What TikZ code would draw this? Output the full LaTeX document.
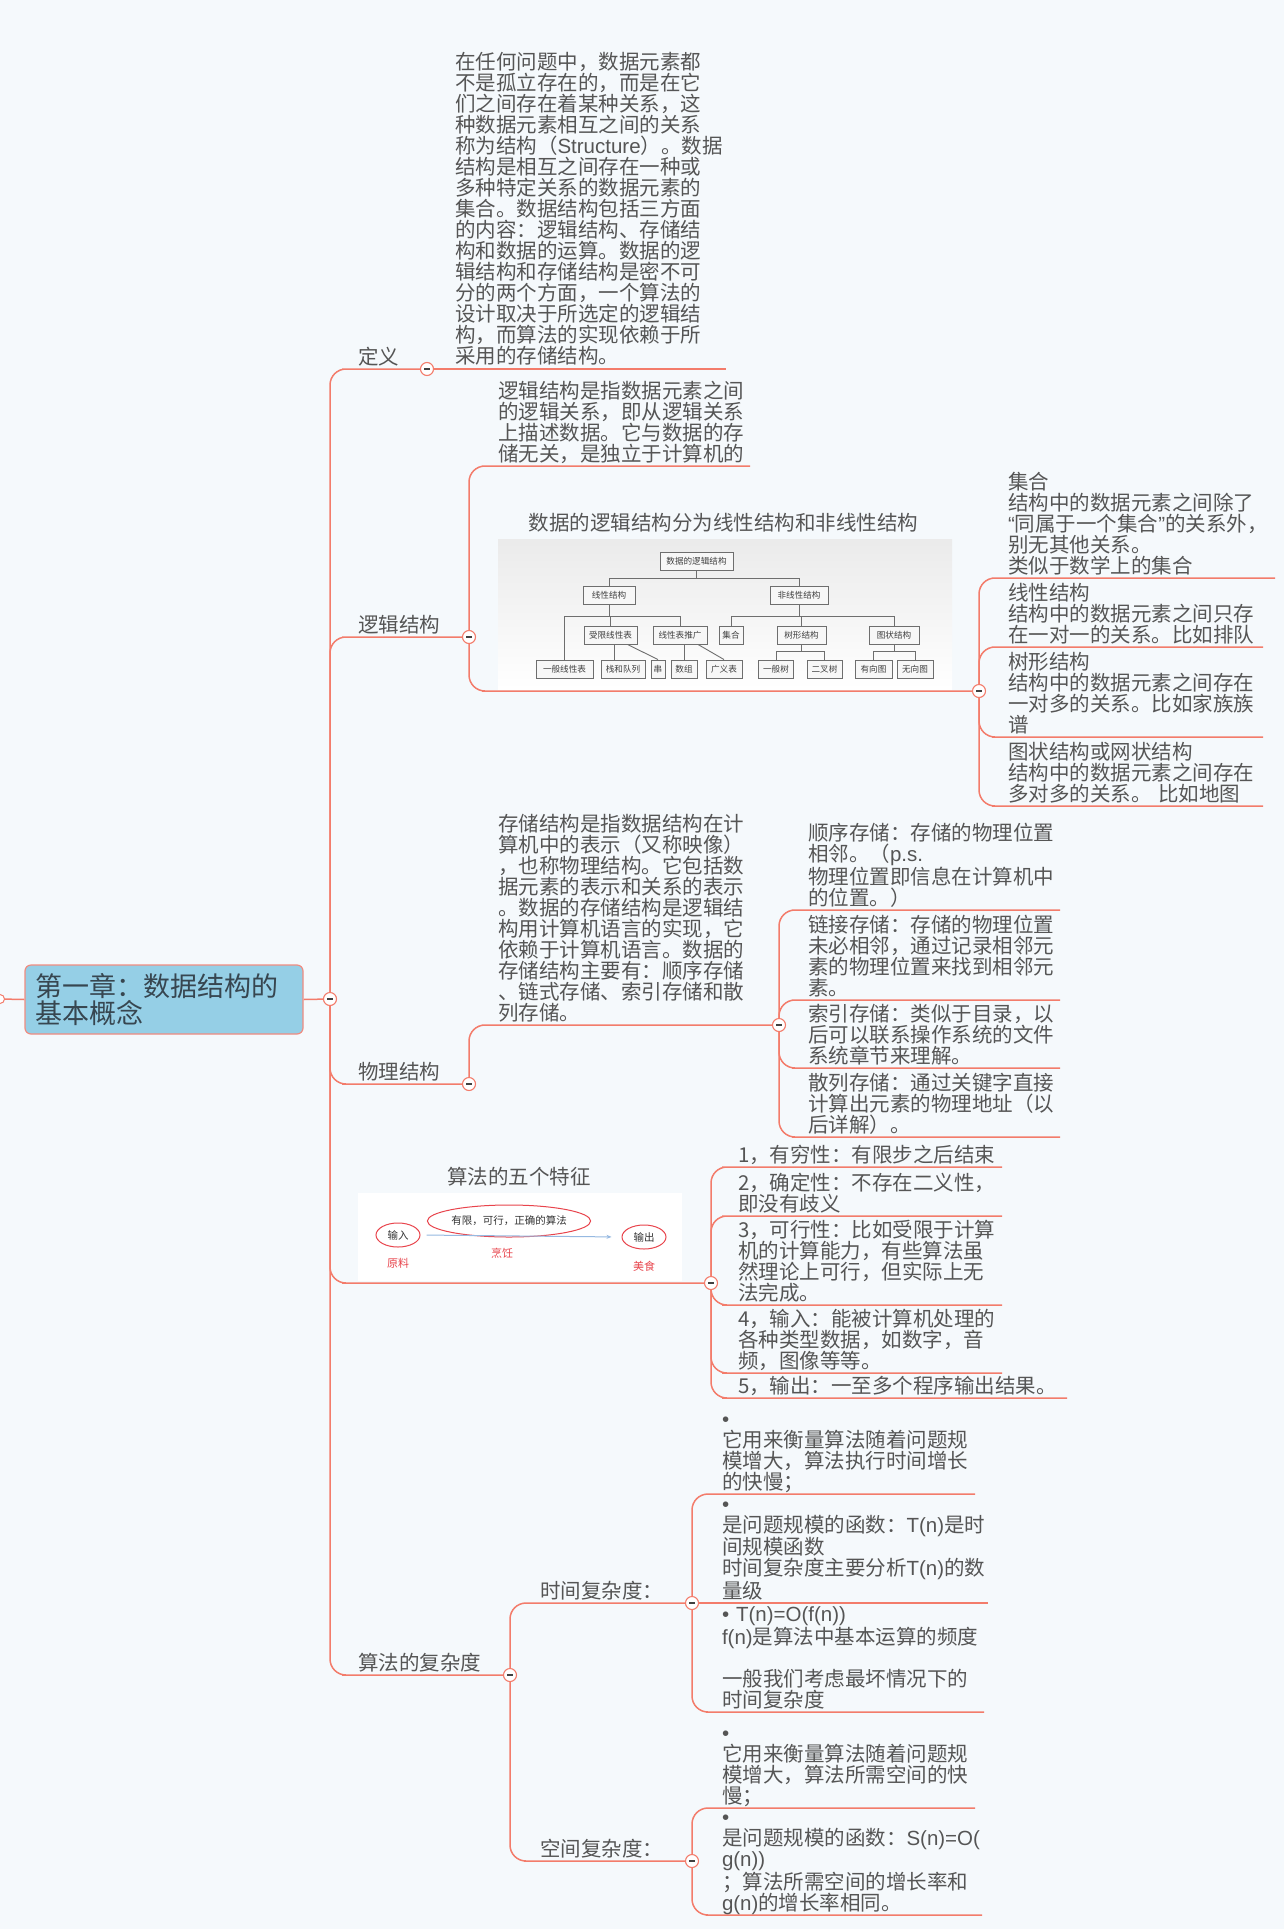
\documentclass[tikz,border=0pt]{standalone}
\usepackage{fontspec}
\setmainfont{Noto Sans CJK SC}
\newfontfamily\westfont{Liberation Sans}
\usetikzlibrary{shapes.geometric,arrows.meta}

\definecolor{pagebg}{RGB}{245,249,252}
\definecolor{linec}{RGB}{243,124,107}
\definecolor{txt}{RGB}{85,85,85}
\definecolor{rootfill}{RGB}{149,207,230}
\definecolor{rootline}{RGB}{240,140,128}
\definecolor{roottxt}{RGB}{55,70,80}
\definecolor{treeline}{RGB}{110,110,110}
\definecolor{featred}{RGB}{232,68,76}
\definecolor{arrowblue}{RGB}{150,185,225}

\pgfdeclarelayer{back}
\pgfdeclarelayer{conn}
\pgfsetlayers{back,conn,main}

% fixed depth below the last line of every topic text
\newcommand\topicdepth{\rule[-5pt]{0pt}{1pt}}
% narrow western quotes and bullet
\newcommand\wquoteopen{{\westfont “}}
\newcommand\wquoteclose{{\westfont ”}}
\newcommand\wbullet{{\westfont •}}

\tikzset{
  topic/.style={anchor=south west, inner sep=0pt, outer sep=0pt, align=left,
    text=txt, font=\fontsize{20.5}{21}\selectfont, execute at end node=\topicdepth},
  headline/.style={inner sep=0pt, text=txt, font=\fontsize{20.5}{21}\selectfont},
  conn/.style={draw=linec, line width=1.5pt, rounded corners=16pt},
  collapse/.style={circle, draw=linec, fill=white, line width=1.1pt, minimum size=13pt,
    inner sep=0pt, outer sep=0pt,
    path picture={\draw[line width=1.6pt, draw=black!75]
      ([xshift=-3pt]path picture bounding box.center) --
      ([xshift=3pt]path picture bounding box.center);}},
  endcircle/.style={circle, draw=linec, fill=white, line width=1pt, minimum size=9pt, inner sep=0pt},
  rootbox/.style={draw=rootline, fill=rootfill, line width=1.2pt, rounded corners=6pt,
    minimum width=278pt, minimum height=69pt, text width=258pt, align=left,
    inner xsep=10pt, font=\fontsize{27}{27}\selectfont, text=roottxt},
  treebox/.style={draw=treeline, fill=black!3, line width=0.9pt,
    font=\fontsize{8.6}{9}\selectfont, text=black!75, minimum height=18pt,
    inner xsep=1pt, inner ysep=0pt},
  treeedge/.style={draw=treeline, line width=0.9pt},
  featell/.style={ellipse, draw=featred, line width=1pt, inner sep=0pt,
    font=\fontsize{10.5}{11}\selectfont, text=black!80},
  featlab/.style={inner sep=0pt, font=\fontsize{11}{11}\selectfont, text=featred},
}

\begin{document}
\begin{tikzpicture}[x=1pt,y=-1pt]
\useasboundingbox (0,0) rectangle (1284,1929);
\begin{pgfonlayer}{back}
  \fill[pagebg] (0,0) rectangle (1284,1929);
\end{pgfonlayer}

% ---------- central topic ----------
\node[rootbox] (root) at (164,999.5) {第一章：数据结构的\\基本概念};
\node[endcircle] (pin) at (0,999) {};
\node[collapse] (c0) at (330,999) {};

% ---------- 定义 ----------
\node[topic] (l-def) at (358,369) {定义};
\node[collapse] (c-def) at (427,369) {};
\node[topic, text width=271pt] (t-def) at (455,369) {在任何问题中，数据元素都\\不是孤立存在的，而是在它\\们之间存在着某种关系，这\\种数据元素相互之间的关系\\称为结构（{\westfont Structure}）。数据\\结构是相互之间存在一种或\\多种特定关系的数据元素的\\集合。数据结构包括三方面\\的内容：逻辑结构、存储结\\构和数据的运算。数据的逻\\辑结构和存储结构是密不可\\分的两个方面，一个算法的\\设计取决于所选定的逻辑结\\构，而算法的实现依赖于所\\采用的存储结构。};

% ---------- 逻辑结构 ----------
\node[topic] (l-log) at (358,637) {逻辑结构};
\node[collapse] (c-log) at (469,637) {};
\node[topic, text width=252pt] (t-log1) at (498,466) {逻辑结构是指数据元素之间\\的逻辑关系，即从逻辑关系\\上描述数据。它与数据的存\\储无关，是独立于计算机的};
\node[headline] (log-title) at (723.5,523) {数据的逻辑结构分为线性结构和非线性结构};
\node[top color=black!8, bottom color=white, minimum width=454pt, minimum height=150pt,
  inner sep=0pt, anchor=north west] (logimg) at (498,539) {};
\coordinate (logimg-base) at (498,691);
\node[collapse] (c-img1) at (979,691) {};

% tree of logical structures
\node[treebox, minimum width=73pt] (tr0) at (696.5,561.5) {数据的逻辑结构};
\node[treebox, minimum width=52pt] (tr1) at (609,595) {线性结构};
\node[treebox, minimum width=58pt] (tr2) at (799,595) {非线性结构};
\node[treebox, minimum width=53pt] (tr11) at (610.5,635) {受限线性表};
\node[treebox, minimum width=54pt] (tr12) at (680,635) {线性表推广};
\node[treebox, minimum width=24pt] (tr21) at (731,635) {集合};
\node[treebox, minimum width=49pt] (tr22) at (801.5,635) {树形结构};
\node[treebox, minimum width=50pt] (tr23) at (894,635) {图状结构};
\node[treebox, minimum width=57pt] (tr111) at (564.5,669) {一般线性表};
\node[treebox, minimum width=44pt] (tr112) at (623,669) {栈和队列};
\node[treebox, minimum width=14pt] (tr113) at (658,669) {串};
\node[treebox, minimum width=26pt] (tr121) at (684,669) {数组};
\node[treebox, minimum width=36pt] (tr122) at (724,669) {广义表};
\node[treebox, minimum width=35pt] (tr221) at (776,669) {一般树};
\node[treebox, minimum width=35pt] (tr222) at (824.5,669) {二叉树};
\node[treebox, minimum width=37pt] (tr231) at (873.5,669) {有向图};
\node[treebox, minimum width=36pt] (tr232) at (915,669) {无向图};

\draw[treeedge] (tr0.south) -- ++(0,7.2) -| (tr1.north);
\draw[treeedge] (tr0.south) -- ++(0,7.2) -| (tr2.north);
\draw[treeedge] (tr1.south) -- ++(0,11.7) -| (tr111.north);
\draw[treeedge] (tr1.south) -- ++(0,11.7) -| (tr11.north);
\draw[treeedge] (tr1.south) -- ++(0,11.7) -| (tr12.north);
\draw[treeedge] (tr2.south) -- ++(0,11.7) -| (tr21.north);
\draw[treeedge] (tr2.south) -- ++(0,11.7) -| (tr22.north);
\draw[treeedge] (tr2.south) -- ++(0,11.7) -| (tr23.north);
\draw[treeedge] ([xshift=4pt]tr11.south) -- ([xshift=4pt]tr11.south |- tr112.north);
\draw[treeedge] ([xshift=17pt]tr11.south) -- (tr113.north);
\draw[treeedge] (tr12.south -| tr121.north) -- (tr121.north);
\draw[treeedge] ([xshift=18pt]tr12.south) -- (tr122.north);
\draw[treeedge] (tr22.south) -- ++(0,7) -| (tr221.north);
\draw[treeedge] (tr22.south) -- ++(0,7) -| (tr222.north);
\draw[treeedge] (tr23.south) -- ++(0,7) -| (tr231.north);
\draw[treeedge] (tr23.south) -- ++(0,7) -| (tr232.north);

% kinds of logical structure
\node[topic, text width=267pt] (t-set) at (1008,578) {集合\\结构中的数据元素之间除了\\\wquoteopen 同属于一个集合\wquoteclose 的关系外，\\别无其他关系。\\类似于数学上的集合};
\node[topic, text width=255pt] (t-lin) at (1008,647) {线性结构\\结构中的数据元素之间只存\\在一对一的关系。比如排队};
\node[topic, text width=255pt] (t-tree) at (1008,737) {树形结构\\结构中的数据元素之间存在\\一对多的关系。比如家族族\\谱};
\node[topic, text width=255pt] (t-graph) at (1008,806) {图状结构或网状结构\\结构中的数据元素之间存在\\多对多的关系。 比如地图};

% ---------- 物理结构 ----------
\node[topic] (l-phy) at (358,1084) {物理结构};
\node[collapse] (c-phy) at (469,1084) {};
\node[topic, text width=250pt] (t-phy1) at (498,1025) {存储结构是指数据结构在计\\算机中的表示（又称映像）\\，也称物理结构。它包括数\\据元素的表示和关系的表示\\。数据的存储结构是逻辑结\\构用计算机语言的实现，它\\依赖于计算机语言。数据的\\存储结构主要有：顺序存储\\、链式存储、索引存储和散\\列存储。};
\node[collapse] (c-phy2) at (779,1025) {};
\node[topic, text width=252pt] (t-seq) at (808,910) {顺序存储：存储的物理位置\\相邻。（{\westfont p.s.}\\物理位置即信息在计算机中\\的位置。）};
\node[topic, text width=252pt] (t-link) at (808,1000) {链接存储：存储的物理位置\\未必相邻，通过记录相邻元\\素的物理位置来找到相邻元\\素。};
\node[topic, text width=252pt] (t-idx) at (808,1068) {索引存储：类似于目录，以\\后可以联系操作系统的文件\\系统章节来理解。};
\node[topic, text width=252pt] (t-hash) at (808,1137) {散列存储：通过关键字直接\\计算出元素的物理地址（以\\后详解）。};

% ---------- 算法的五个特征 ----------
\node[headline] (alg-title) at (519,1177) {算法的五个特征};
\node[fill=white, minimum width=324pt, minimum height=88pt, inner sep=0pt,
  anchor=north west] (algimg) at (358,1193) {};
\coordinate (algimg-base) at (358,1283);
\node[featell, minimum width=44pt, minimum height=24pt] (f-in) at (398,1235) {输入};
\node[featell, minimum width=152pt, minimum height=32pt] (f-alg) at (509,1221) {有限，可行，正确的算法};
\node[featell, minimum width=44pt, minimum height=24pt] (f-out) at (644,1237) {输出};
\node[featlab] (f-raw) at (398,1263) {原料};
\node[featlab] (f-cook) at (502,1253) {烹饪};
\node[featlab] (f-food) at (644,1266) {美食};
\draw[draw=arrowblue, line width=1pt, -{Stealth[length=5pt,width=4pt]},
  shorten <=6pt, shorten >=10pt] (f-in.east) -- (f-out.west);
\node[collapse] (c-alg) at (711,1283) {};
\node[topic, text width=264pt] (a1) at (738,1167) {1，有穷性：有限步之后结束};
\node[topic, text width=264pt] (a2) at (738,1216) {2，确定性：不存在二义性，\\即没有歧义};
\node[topic, text width=264pt] (a3) at (738,1305) {3，可行性：比如受限于计算\\机的计算能力，有些算法虽\\然理论上可行，但实际上无\\法完成。};
\node[topic, text width=264pt] (a4) at (738,1373) {4，输入：能被计算机处理的\\各种类型数据，如数字，音\\频，图像等等。};
\node[topic, text width=329pt] (a5) at (738,1398) {5，输出：一至多个程序输出结果。};

% ---------- 算法的复杂度 ----------
\node[topic] (l-cx) at (358,1675) {算法的复杂度};
\node[collapse] (c-cx) at (510,1675) {};
\node[topic] (l-time) at (540,1603) {时间复杂度：};
\node[collapse] (c-time) at (692,1603) {};
\node[topic] (l-space) at (540,1861) {空间复杂度：};
\node[collapse] (c-space) at (692,1861) {};
\node[topic, text width=253pt] (tc1) at (722,1494) {\wbullet\\它用来衡量算法随着问题规\\模增大，算法执行时间增长\\的快慢；};
\node[topic, text width=266pt] (tc2) at (722,1603) {\wbullet\\是问题规模的函数：{\westfont T(n)}是时\\间规模函数\\时间复杂度主要分析{\westfont T(n)}的数\\量级};
\node[topic, text width=262pt] (tc3) at (722,1712) {{\westfont • T(n)=O(f(n))}\\{\westfont f(n)}是算法中基本运算的频度\\~\\一般我们考虑最坏情况下的\\时间复杂度};
\node[topic, text width=253pt] (sc1) at (722,1808) {\wbullet\\它用来衡量算法随着问题规\\模增大，算法所需空间的快\\慢；};
\node[topic, text width=260pt] (sc2) at (722,1915) {\wbullet\\是问题规模的函数：{\westfont S(n)=O(}\\{\westfont g(n))}\\；算法所需空间的增长率和\\{\westfont g(n)}的增长率相同。};

% ---------- connectors ----------
\begin{pgfonlayer}{conn}
  \draw[conn] (pin.center) -- (root.west);
  \draw[conn] (root.east) -- (c0.center);
  % main branches
  \draw[conn] (c0.center) |- (l-def.south west) -- (c-def.center);
  \draw[conn] (c0.center) |- (l-log.south west) -- (c-log.center);
  \draw[conn] (c0.center) |- (l-phy.south west) -- (c-phy.center);
  \draw[conn] (c0.center) |- (algimg-base) -- (c-alg.center);
  \draw[conn] (c0.center) |- (l-cx.south west) -- (c-cx.center);
  % 定义
  \draw[conn] (c-def.center) -- (t-def.south east);
  % 逻辑结构
  \draw[conn] (c-log.center) |- (t-log1.south west) -- (t-log1.south east);
  \draw[conn] (c-log.center) |- (logimg-base) -- (c-img1.center);
  \draw[conn] (c-img1.center) |- (t-set.south west) -- (t-set.south east);
  \draw[conn] (c-img1.center) |- (t-lin.south west) -- (t-lin.south east);
  \draw[conn] (c-img1.center) |- (t-tree.south west) -- (t-tree.south east);
  \draw[conn] (c-img1.center) |- (t-graph.south west) -- (t-graph.south east);
  % 物理结构
  \draw[conn] (c-phy.center) |- (t-phy1.south west) -- (c-phy2.center);
  \draw[conn] (c-phy2.center) |- (t-seq.south west) -- (t-seq.south east);
  \draw[conn] (c-phy2.center) |- (t-link.south west) -- (t-link.south east);
  \draw[conn] (c-phy2.center) |- (t-idx.south west) -- (t-idx.south east);
  \draw[conn] (c-phy2.center) |- (t-hash.south west) -- (t-hash.south east);
  % 五个特征
  \draw[conn] (c-alg.center) |- (a1.south west) -- (a1.south east);
  \draw[conn] (c-alg.center) |- (a2.south west) -- (a2.south east);
  \draw[conn] (c-alg.center) |- (a3.south west) -- (a3.south east);
  \draw[conn] (c-alg.center) |- (a4.south west) -- (a4.south east);
  \draw[conn] (c-alg.center) |- (a5.south west) -- (a5.south east);
  % 复杂度
  \draw[conn] (c-cx.center) |- (l-time.south west) -- (c-time.center);
  \draw[conn] (c-cx.center) |- (l-space.south west) -- (c-space.center);
  \draw[conn] (c-time.center) |- (tc1.south west) -- (tc1.south east);
  \draw[conn, sharp corners] (c-time.center) -- (tc2.south east);
  \draw[conn] (c-time.center) |- (tc3.south west) -- (tc3.south east);
  \draw[conn] (c-space.center) |- (sc1.south west) -- (sc1.south east);
  \draw[conn] (c-space.center) |- (sc2.south west) -- (sc2.south east);
\end{pgfonlayer}
\end{tikzpicture}
\end{document}
